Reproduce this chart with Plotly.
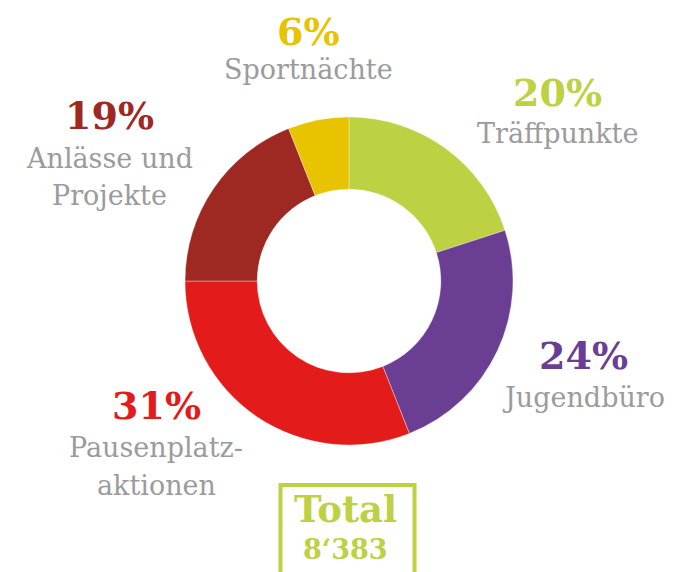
import plotly.graph_objects as go

categories = ["Träffpunkte", "Jugendbüro", "Pausenplatzaktionen", "Anlässe und Projekte", "Sportnächte"]
label_lines = [["Träffpunkte"], ["Jugendbüro"], ["Pausenplatz-", "aktionen"], ["Anlässe und", "Projekte"], ["Sportnächte"]]
percent = [20, 24, 31, 19, 6]
colors = ["#BDD143", "#6A3F93", "#E31B1B", "#9E2922", "#E7C300"]
total_label = "Total"
total_value = "8‘383"

W, H = 684, 572
OFF = 8  # page body margin offset
GRAY = "#9B9B9B"
GREEN = "#BDD143"
FONT = "DejaVu Serif"


def px(x):
    return (x - OFF) / W


def py(y):
    return 1 - (y - OFF) / H


cx, cy, R = 349, 281, 164
fig = go.Figure(go.Pie(
    labels=categories, values=percent, sort=False, direction="clockwise", rotation=0,
    hole=0.56, textinfo="none", hoverinfo="label+percent",
    marker=dict(colors=colors, line=dict(color="rgba(255,255,255,0.6)", width=0.6)),
    domain=dict(x=[px(cx - R), px(cx + R)], y=[py(cy + R), py(cy - R)]),
    showlegend=False,
))

# label anchor positions (px): percent centre, first label line centre
pos = [(557, 93, 133), (583, 355, 398), (156, 405, 447), (109, 115, 158), (308, 31, 70)]
line_gap = 38

annotations = []
for (x, yp, yl), p, lines, c in zip(pos, percent, label_lines, colors):
    annotations.append(dict(x=px(x), y=py(yp), xref="paper", yref="paper", showarrow=False,
                            text=f"{p}%", xanchor="center", yanchor="middle",
                            font=dict(family=FONT, size=38, color=c, weight=700)))
    for i, ln in enumerate(lines):
        annotations.append(dict(x=px(x), y=py(yl + i * line_gap), xref="paper", yref="paper",
                                showarrow=False, text=ln, xanchor="center", yanchor="middle",
                                font=dict(family=FONT, size=27, color=GRAY)))

annotations.append(dict(x=px(345), y=py(509), xref="paper", yref="paper", showarrow=False,
                        text=total_label, xanchor="center", yanchor="middle",
                        font=dict(family=FONT, size=37, color=GREEN, weight=700)))
annotations.append(dict(x=px(345), y=py(549), xref="paper", yref="paper", showarrow=False,
                        text=total_value, xanchor="center", yanchor="middle",
                        font=dict(family=FONT, size=27, color=GREEN, weight=700)))

x0, x1 = px(280.5), px(414.5)
ytop = py(485)
ybot = -0.1
shapes = [dict(type="path", xref="paper", yref="paper",
               path=f"M {x0},{ybot} L {x0},{ytop} L {x1},{ytop} L {x1},{ybot}",
               line=dict(color=GREEN, width=4))]

fig.update_layout(width=W, height=H, margin=dict(l=0, r=0, t=0, b=0),
                  paper_bgcolor="white", plot_bgcolor="white",
                  annotations=annotations, shapes=shapes)
fig.write_html("out.html")
